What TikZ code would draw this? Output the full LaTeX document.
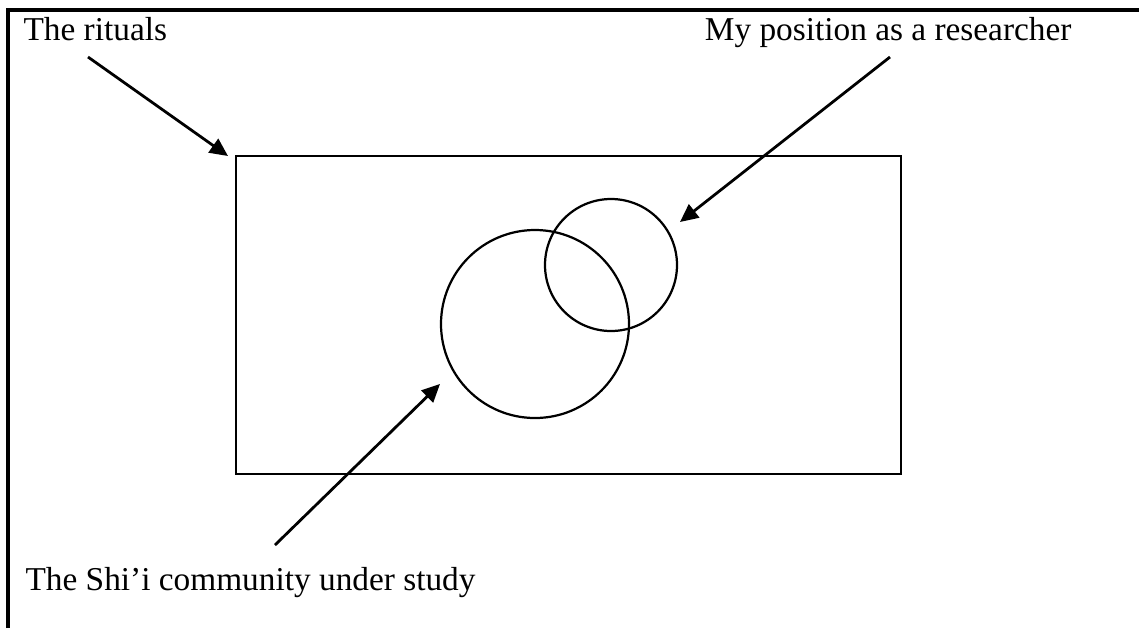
\documentclass[tikz,border=0pt]{standalone}
\usepackage{fontspec}
\setmainfont{Liberation Serif}
\usepackage{tikz}
\usetikzlibrary{arrows.meta,positioning}

\tikzset{
  lbl/.style={inner sep=0pt,anchor=base west,font=\fontsize{12}{14}\selectfont},
  pointer/.style={line width=1pt,-{Triangle[length=6.5pt,width=6pt]}},
  ring/.style={circle,draw,line width=0.8pt,inner sep=0pt}
}

\begin{document}
\begin{tikzpicture}[x=0.36pt,y=-0.36pt]
  \useasboundingbox (0,0) rectangle (1139,628);
  % frame, open at right and bottom
  \draw[line width=1.1pt] (8,628) -- (8,10) -- (1139,10);
  % the rituals
  \node[draw,line width=0.9pt,minimum width=665*0.36pt,minimum height=318*0.36pt,inner sep=0pt] (rituals) at (568.5,315) {};
  \node[ring,minimum size=188*0.36pt] (community) at (535,324) {};
  \node[ring,minimum size=132*0.36pt] (position) at (611,265) {};
  % labels
  \node[lbl] (ritualslbl) at (23,40) {The rituals};
  \node[lbl,anchor=base east] (positionlbl) at (1072,40) {My position as a researcher};
  \node[lbl] (communitylbl) at (25,590) {The Shi'i community under study};
  % arrows
  \coordinate (a1) at (88,57);   \coordinate (t1) at (228,156);
  \coordinate (a2) at (890,57);  \coordinate (t2) at (680,222);
  \coordinate (a3) at (275,545); \coordinate (t3) at (440,384);
  \draw[pointer] (a1) -- (t1);
  \draw[pointer] (a2) -- (t2);
  \draw[pointer] (a3) -- (t3);
\end{tikzpicture}
\end{document}
